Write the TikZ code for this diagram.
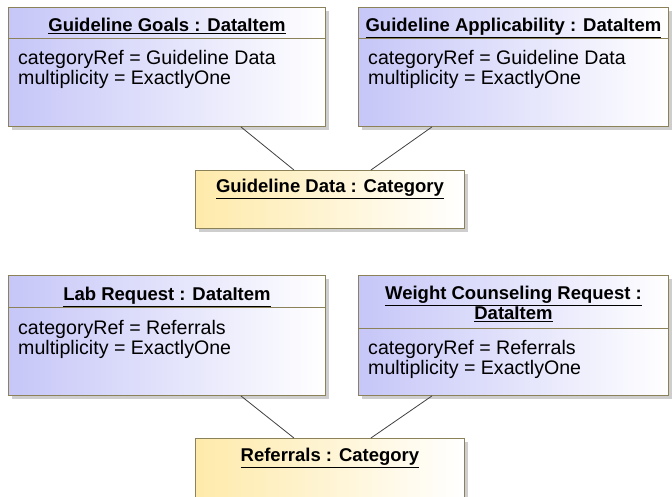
\documentclass[tikz,border=0pt]{standalone}
\usepackage{fontspec}
\setmainfont{Liberation Sans}
\usetikzlibrary{shapes, shadows, positioning, calc}

\definecolor{umlborder}{RGB}{140,130,90}
\definecolor{itemblue}{RGB}{198,198,248}
\definecolor{catyellow}{RGB}{254,234,170}
\definecolor{linegray}{RGB}{64,64,64}
\newcommand{\umlfont}{\fontsize{18.5}{20}\selectfont}
\newcommand{\attrfont}{\fontsize{19.6}{20}\selectfont}

\begin{document}
\begin{tikzpicture}[
  x=1pt, y=-1pt,
  item/.style={rectangle, draw=umlborder, line width=0.9pt, left color=itemblue, right color=white, anchor=north west, inner sep=0pt, drop shadow={shadow xshift=4pt, shadow yshift=-4pt, fill=black!38}},
  category/.style={item, left color=catyellow, right color=white},
  head/.style={font=\umlfont\bfseries, align=center, inner sep=0pt},
  attr/.style={font=\attrfont, align=left, inner sep=0pt},
  divider/.style={draw=umlborder, line width=0.9pt},
  assoc/.style={draw=linegray, line width=0.8pt}
]
\useasboundingbox (0,0) rectangle (672,497);

% Guideline Data
\node[item, minimum width=317pt, minimum height=119pt] (goals) at (8,7) {};
\node[head, below=11pt of goals.north] (goalshead) {\underline{Guideline Goals : DataItem}};
\coordinate (goalsdiv) at ($(goals.north west)+(0,31)$);
\draw[divider] (goalsdiv) -- (goalsdiv -| goals.east);
\node[attr, below right=12pt and 10pt of goalsdiv] (goalsattr) {categoryRef = Guideline Data\\multiplicity = ExactlyOne};

\node[item, minimum width=310pt, minimum height=119pt] (applic) at (358,7) {};
\node[head, below=11pt of applic.north] (applichead) {\underline{Guideline Applicability : DataItem}};
\coordinate (applicdiv) at ($(applic.north west)+(0,31)$);
\draw[divider] (applicdiv) -- (applicdiv -| applic.east);
\node[attr, below right=12pt and 10pt of applicdiv] (applicattr) {categoryRef = Guideline Data\\multiplicity = ExactlyOne};

\node[category, minimum width=269pt, minimum height=58pt] (gdata) at (195,170) {};
\node[head, below=9pt of gdata.north] (gdatahead) {\underline{Guideline Data : Category}};

% Referrals
\node[item, minimum width=317pt, minimum height=120pt] (lab) at (8,275) {};
\node[head, below=12pt of lab.north] (labhead) {\underline{Lab Request : DataItem}};
\coordinate (labdiv) at ($(lab.north west)+(0,32)$);
\draw[divider] (labdiv) -- (labdiv -| lab.east);
\node[attr, below right=13pt and 10pt of labdiv] (labattr) {categoryRef = Referrals\\multiplicity = ExactlyOne};

\node[item, minimum width=310pt, minimum height=120pt] (weight) at (358,275) {};
\node[head, below=11pt of weight.north] (weighthead) {\underline{Weight Counseling Request :}\\\underline{DataItem}};
\coordinate (weightdiv) at ($(weight.north west)+(0,53)$);
\draw[divider] (weightdiv) -- (weightdiv -| weight.east);
\node[attr, below right=12pt and 10pt of weightdiv] (weightattr) {categoryRef = Referrals\\multiplicity = ExactlyOne};

\node[category, minimum width=269pt, minimum height=60pt] (referrals) at (195,438) {};
\node[head, below=10pt of referrals.north] (referralshead) {\underline{Referrals : Category}};

% Connections
\draw[assoc] ([xshift=-85pt]goals.south east) -- ([xshift=-36pt]gdata.north);
\draw[assoc] ([xshift=74pt]applic.south west) -- ([xshift=41pt]gdata.north);
\draw[assoc] ([xshift=-85pt]lab.south east) -- ([xshift=-36pt]referrals.north);
\draw[assoc] ([xshift=74pt]weight.south west) -- ([xshift=41pt]referrals.north);

\end{tikzpicture}
\end{document}
